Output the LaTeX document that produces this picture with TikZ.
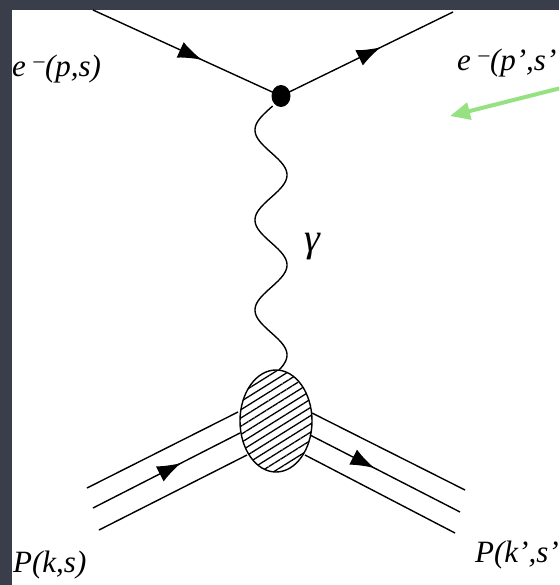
\documentclass[tikz,border=0pt]{standalone}
\usepackage{fontspec}
\setmainfont{Liberation Serif}
\usetikzlibrary{arrows.meta,decorations.markings,patterns.meta,shapes.geometric}
\definecolor{bgdark}{RGB}{58,62,74}
\definecolor{arrgreen}{RGB}{150,226,130}
\tikzset{
  fermionline/.style={line width=1.4pt, postaction={decorate},
    decoration={markings, mark=at position #1 with {\arrow{Latex[length=24pt,width=17pt]}}}},
  plainline/.style={line width=1.4pt},
  lbl/.style={font=\fontsize{31}{33}\selectfont\itshape, inner sep=0pt, anchor=west},
}
\begin{document}
\begin{tikzpicture}[x=1pt,y=-1pt]
\useasboundingbox (0,0) rectangle (559,585);
\fill[bgdark] (0,0) rectangle (559,585);
\fill[white] (12,10) rectangle (559,585);
\clip (0,0) rectangle (559,585);

% electron lines
\coordinate (ein) at (93,10);
\coordinate (eout) at (453,12);
\node[ellipse, fill=black, minimum width=19pt, minimum height=22pt, inner sep=0pt] (vtx) at (281,96) {};
\draw[fermionline=0.58] (ein) -- (vtx.center);
\draw[fermionline=0.58] (vtx.center) -- (eout);

% blob
\node[ellipse, draw, line width=1.4pt, minimum width=72pt, minimum height=102pt,
  pattern={Lines[angle=32,distance=7pt,line width=1.3pt]}] (blob) at (276,421) {};

% photon
\draw[line width=1.4pt] plot[domain=106:370, samples=240, smooth] ({271-16*cos(4*(\x-130))}, \x);

% proton in
\coordinate (pa1) at (87,488);  \coordinate (pb1) at (238,412);
\coordinate (pa2) at (93,508);  \coordinate (pb2) at (240,433);
\coordinate (pa3) at (99,530);  \coordinate (pb3) at (247,455);
\draw[plainline] (pa1) -- (pb1);
\draw[fermionline=0.6] (pa2) -- (pb2);
\draw[plainline] (pa3) -- (pb3);

% proton out
\coordinate (qa1) at (312,413); \coordinate (qb1) at (465,490);
\coordinate (qa2) at (310,435); \coordinate (qb2) at (460,512);
\coordinate (qa3) at (305,455); \coordinate (qb3) at (455,533);
\draw[plainline] (qa1) -- (qb1);
\draw[fermionline=0.43] (qa2) -- (qb2);
\draw[plainline] (qa3) -- (qb3);

% labels
\node[lbl] (l1) at (12,69) {e \textsuperscript{–}(p,s)};
\node[lbl] (l2) at (457,63) {e \textsuperscript{–}(p',s'};
\node[lbl] (l3) at (13,565) {P(k,s)};
\node[lbl] (l4) at (475,555) {P(k',s'};
\node[font=\fontsize{40}{42}\selectfont\itshape, inner sep=0pt] (gam) at (312,247) {γ};

% green arrow
\coordinate (gs) at (565,87);
\coordinate (ge) at (450,116);
\draw[arrgreen, line width=4pt, -{Triangle[length=20pt,width=17pt]}] (gs) -- (ge);
\end{tikzpicture}
\end{document}
